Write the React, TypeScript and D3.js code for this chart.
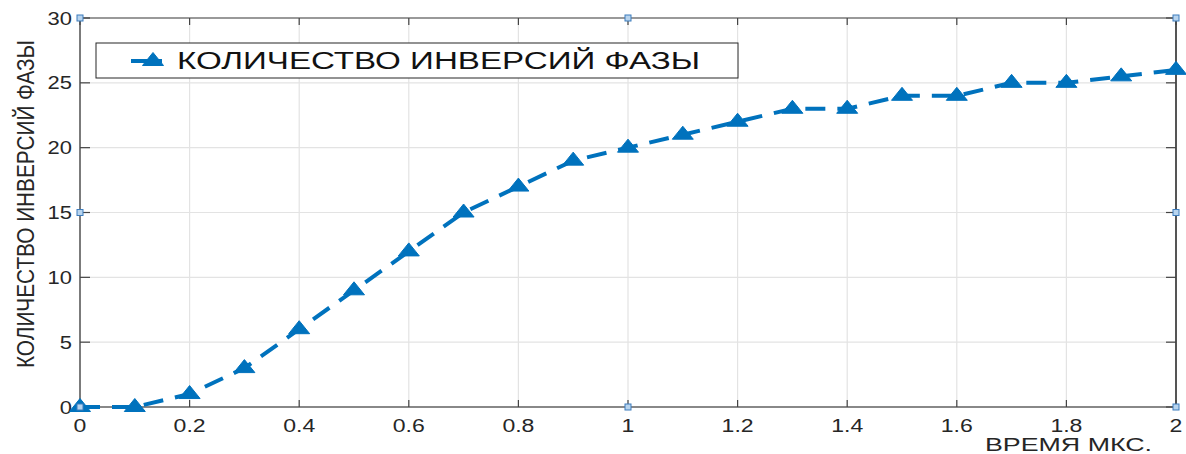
import React from "react";
import * as d3 from "d3";

const xValues = [0, 0.1, 0.2, 0.3, 0.4, 0.5, 0.6, 0.7, 0.8, 0.9, 1.0, 1.1, 1.2, 1.3, 1.4, 1.5, 1.6, 1.7, 1.8, 1.9, 2.0];
const yValues = [0, 0, 1, 3, 6, 9, 12, 15, 17, 19, 20, 21, 22, 23, 23, 24, 24, 25, 25, 25.5, 26];
const xTicks = [0, 0.2, 0.4, 0.6, 0.8, 1, 1.2, 1.4, 1.6, 1.8, 2];
const yTicks = [0, 5, 10, 15, 20, 25, 30];
const handleX = [0, 1, 2];
const handleY = [0, 15, 30];
const seriesName = "КОЛИЧЕСТВО ИНВЕРСИЙ ФАЗЫ";
const xLabel = "ВРЕМЯ МКС.";
const yLabel = "КОЛИЧЕСТВО ИНВЕРСИЙ  ФАЗЫ";

const W = 1186;
const H = 454;
const L = 80, R = 1176, T = 18, B = 407;
const BLUE = "#0072BD";
const FONT = "'Liberation Sans', Arial, sans-serif";

function tri(cx: number, cy: number, w: number, h: number) {
  return `M${cx - w / 2},${cy + h / 2}L${cx + w / 2},${cy + h / 2}L${cx},${cy - h / 2}Z`;
}

export default function App() {
  const x = d3.scaleLinear().domain([0, 2]).range([L, R]);
  const y = d3.scaleLinear().domain([0, 30]).range([B, T]);
  const pts: [number, number][] = xValues.map((v, i) => [v, yValues[i]]);
  const line = d3.line<[number, number]>().x(d => x(d[0])).y(d => y(d[1]))(pts) || "";

  return (
    <svg width={W} height={H} style={{ position: "absolute", left: 0, top: 0, background: "#fff" }} fontFamily={FONT}>
      <rect x={0} y={0} width={W} height={H} fill="#fff" />
      {/* grid */}
      {xTicks.map(t => (
        <line key={"gx" + t} x1={x(t)} x2={x(t)} y1={T} y2={B} stroke="#e3e3e3" strokeWidth={1.2} />
      ))}
      {yTicks.map(t => (
        <line key={"gy" + t} x1={L} x2={R} y1={y(t)} y2={y(t)} stroke="#e3e3e3" strokeWidth={1.2} />
      ))}
      {/* axes box */}
      <line x1={L} x2={R} y1={T} y2={T} stroke="#999" strokeWidth={2} />
      <line x1={L} x2={R} y1={B} y2={B} stroke="#888" strokeWidth={2} />
      <line x1={L} x2={L} y1={T} y2={B} stroke="#555" strokeWidth={1.5} />
      <line x1={R} x2={R} y1={T} y2={B} stroke="#222" strokeWidth={1.5} />
      {/* ticks */}
      {xTicks.map(t => (
        <g key={"tx" + t}>
          <line x1={x(t)} x2={x(t)} y1={B} y2={B - 7} stroke="#444" strokeWidth={1.2} />
          <line x1={x(t)} x2={x(t)} y1={T} y2={T + 7} stroke="#444" strokeWidth={1.2} />
          <text transform={`translate(${x(t)},${432}) scale(1.28,1)`} textAnchor="middle" fontSize={18} fill="#262626">
            {String(t)}
          </text>
        </g>
      ))}
      {yTicks.map(t => (
        <g key={"ty" + t}>
          <line x1={L} x2={L + 10} y1={y(t)} y2={y(t)} stroke="#444" strokeWidth={1.2} />
          <line x1={R} x2={R - 10} y1={y(t)} y2={y(t)} stroke="#444" strokeWidth={1.2} />
          <text transform={`translate(${72},${y(t) + 6.5}) scale(1.22,1)`} textAnchor="end" fontSize={18} fill="#262626">
            {String(t)}
          </text>
        </g>
      ))}
      {/* axis labels */}
      <text x={985} y={451} fontSize={18} fill="#262626" textLength={167} lengthAdjust="spacingAndGlyphs">
        {xLabel}
      </text>
      <text transform={`translate(34,368) rotate(-90) scale(1,1.15)`} fontSize={20} fill="#262626" textLength={328} lengthAdjust="spacingAndGlyphs">
        {yLabel}
      </text>
      {/* series */}
      <path d={line} fill="none" stroke={BLUE} strokeWidth={4} strokeDasharray="20 12" />
      {pts.map((p, i) => (
        <path key={"m" + i} d={tri(x(p[0]), y(p[1]) - 2, 21, 13)} fill={BLUE} stroke={BLUE} strokeWidth={1} />
      ))}
      {/* handles */}
      {handleX.map(hx =>
        handleY.map(hy =>
          hx === 1 && hy === 15 ? null : (
            <rect key={`h${hx}-${hy}`} x={x(hx) - 3} y={y(hy) - 3} width={6} height={6} fill="#b8d4ee" stroke="#3d7dbd" strokeWidth={1} />
          )
        )
      )}
      {/* legend */}
      <rect x={96} y={43} width={642} height={35} fill="#fff" stroke="#262626" strokeWidth={1} />
      <line x1={131} x2={162} y1={61} y2={61} stroke={BLUE} strokeWidth={4} />
      <path d={tri(153, 59, 21, 13)} fill={BLUE} stroke={BLUE} strokeWidth={1} />
      <text x={177} y={69} fontSize={23} fill="#111" textLength={523} lengthAdjust="spacingAndGlyphs">
        {seriesName}
      </text>
    </svg>
  );
}
